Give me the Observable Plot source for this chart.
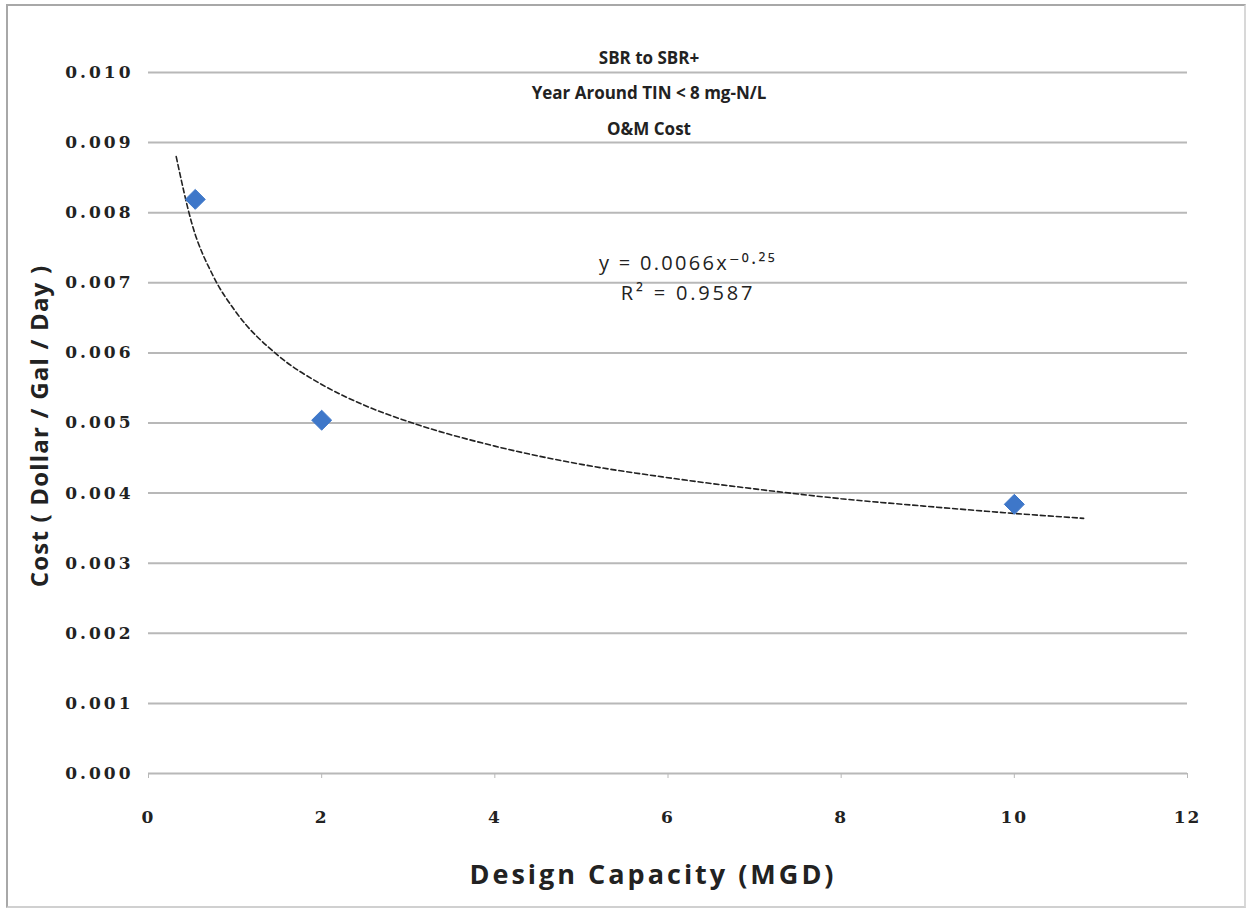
<!DOCTYPE html>
<html>
<head>
<meta charset="utf-8">
<script src="https://cdn.jsdelivr.net/npm/d3@7"></script>
<script src="https://cdn.jsdelivr.net/npm/@observablehq/plot@0.6"></script>
<style>
  html, body { margin: 0; padding: 0; background: #fff; }
  #wrap { position: relative; width: 1250px; height: 911px; overflow: hidden; }
  #border { position: absolute; left: 6px; top: 4px; width: 1236px; height: 900px;
            border: 2px solid #a8a8a8; border-right-color: #d8d8d8; border-bottom-color: #d0d0d0; pointer-events: none; }
  svg { display: block; }
  g[aria-label="y-axis tick label"] text { letter-spacing: 3px; }
  g[aria-label="x-axis tick label"] text { letter-spacing: 2px; }
</style>
</head>
<body>
<div id="wrap"><div id="chart"></div><div id="border"></div></div>
<script>
// Observed data points
const capacity = [0.54, 2, 10];
const cost = [0.00819, 0.00504, 0.00384];

// Trendline (power fit)
const trendX = [0.32, 0.5, 0.75, 1, 1.5, 2, 2.5, 3, 4, 5, 6, 7, 8, 9, 10, 10.8];
const trendY = [0.00880, 0.00785, 0.00709, 0.00660, 0.00596, 0.00555, 0.00525, 0.00502, 0.00467, 0.00441, 0.00422, 0.00406, 0.00392, 0.00381, 0.00371, 0.00364];

const xTicks = [0, 2, 4, 6, 8, 10, 12];
const yTicks = [0, 0.001, 0.002, 0.003, 0.004, 0.005, 0.006, 0.007, 0.008, 0.009, 0.010];

const titleLines = ["SBR to SBR+", "Year Around TIN < 8 mg-N/L", "O&M Cost"];
const equationLines = ["y = 0.0066x⁻⁰·²⁵", "R² = 0.9587"];
const xTitle = "Design Capacity (MGD)";
const yTitle = "Cost ( Dollar / Gal / Day )";

const points = capacity.map((x, i) => ({x, y: cost[i]}));
const trend = trendX.map((x, i) => ({x, y: trendY[i]}));

const sans = "'Open Sans', 'DejaVu Sans', sans-serif";
const serif = "'DejaVu Serif', 'Liberation Serif', serif";

const titleDy = [-21, 14, 50];
const eqDy = [183, 213];

const chart = Plot.plot({
  width: 1250,
  height: 911,
  marginLeft: 148,
  marginRight: 63,
  marginTop: 72,
  marginBottom: 138,
  style: {fontFamily: sans, background: "transparent", overflow: "visible"},
  x: {domain: [0, 12], ticks: xTicks},
  y: {domain: [0, 0.010], ticks: yTicks},
  marks: [
    Plot.gridY(yTicks, {stroke: "#b8b8b8", strokeOpacity: 1, strokeWidth: 2}),
    Plot.axisY(yTicks, {tickSize: 0, tickPadding: 15, tickFormat: d3.format(".3f"),
      fontFamily: serif, fontSize: 17, fontWeight: "bold", fill: "#222", label: null}),
    Plot.axisX(xTicks, {tickSize: 5, stroke: "#b8b8b8", tickPadding: 32,
      fontFamily: serif, fontSize: 17, fontWeight: "bold", fill: "#222", label: null}),
    Plot.line(trend, {x: "x", y: "y", curve: "monotone-x", stroke: "#222", strokeWidth: 1.6, strokeDasharray: "5,3"}),
    Plot.dot(points, {x: "x", y: "y", symbol: "diamond2", r: 9, fill: "#3e77c9", stroke: "#3e77c9", strokeWidth: 1}),
    ...titleLines.map((t, i) => Plot.text([t], {text: d => d, frameAnchor: "top", dx: -19, dy: titleDy[i],
      fontSize: 17, fontWeight: "bold", fill: "#222", fontFamily: sans})),
    ...equationLines.map((t, i) => Plot.text([t], {text: d => d, frameAnchor: "top", dx: 20, dy: eqDy[i],
      fontSize: 20, fill: "#222", fontFamily: sans})),
    Plot.text([xTitle], {text: d => d, frameAnchor: "bottom", dx: -15, dy: 110,
      fontSize: 27, fontWeight: "bold", fill: "#222", fontFamily: sans}),
    Plot.text([yTitle], {text: d => d, frameAnchor: "left", textAnchor: "middle", dx: -108, dy: 3, rotate: -90,
      fontSize: 24, fontWeight: "bold", fill: "#222", fontFamily: sans})
  ]
});
document.getElementById("chart").appendChild(chart);

// letter spacing to match the wide lettering of the reference
const spacing = new Map([
  [xTitle, "3px"],
  [yTitle, "1.2px"],
  [equationLines[0], "2.3px"],
  [equationLines[1], "2.8px"]
]);
d3.select(chart).selectAll("text").each(function() {
  const s = spacing.get(this.textContent);
  if (s) this.style.letterSpacing = s;
});
</script>
</body>
</html>
